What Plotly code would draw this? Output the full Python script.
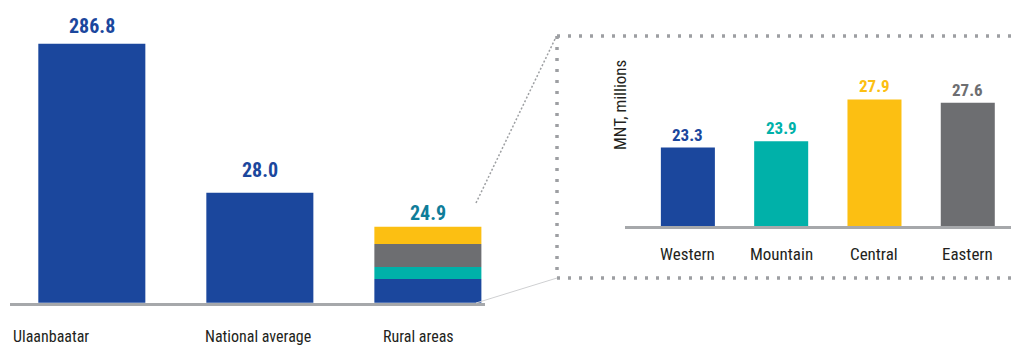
import plotly.graph_objects as go

# ---------------- data ----------------
main_categories = ["Ulaanbaatar", "National average", "Rural areas"]
main_values = [286.8, 28.0, 24.9]

# stacked bands drawn inside the "Rural areas" bar (bottom -> top), tops
rural_stack_regions = ["Western", "Mountain", "Eastern", "Central"]
rural_stack_tops = [20.13, 21.22, 23.32, 24.9]

region_categories = ["Western", "Mountain", "Central", "Eastern"]
region_values = [23.3, 23.9, 27.9, 27.6]

y_axis_title = "MNT, millions"

# ---------------- style ----------------
VIEW_W, VIEW_H = 1019, 347
BODY = 8  # default page margin around the plot div
W, H = VIEW_W - BODY, VIEW_H - BODY
BLUE = "#1b479d"
TEAL = "#00b1a9"
YELLOW = "#fcbf12"
GREY = "#6d6e71"
RURAL_LABEL = "#0f7d99"
AXIS = "#a6a8ab"
DOT = "#9d9fa2"
TEXT = "#231f20"
FONT = "Liberation Sans Narrow, Arial Narrow, Roboto Condensed, Roboto, sans-serif"
region_colors = {"Western": BLUE, "Mountain": TEAL, "Central": YELLOW, "Eastern": GREY}

LEFT_Y = [17.97, 41.58]
RIGHT_Y = [15.78, 33.6]


def px_x(x):
    """screen x (page pixels) -> paper fraction"""
    return (x - BODY) / W


def px_y(y):
    """screen y (page pixels) -> paper fraction"""
    return (VIEW_H - y) / H


fig = go.Figure()

# left panel: Ulaanbaatar & national average
fig.add_trace(go.Bar(
    x=main_categories[:2], y=main_values[:2], marker_color=BLUE, width=0.637,
    xaxis="x", yaxis="y", marker_line_width=0))

# left panel: rural areas as stacked coloured bands
base = 0
for region, top in zip(rural_stack_regions, rural_stack_tops):
    fig.add_trace(go.Bar(
        x=[main_categories[2]], y=[top - base], base=[base],
        marker_color=region_colors[region], width=0.637, name=region,
        xaxis="x", yaxis="y", marker_line_width=0))
    base = top

# right inset: regions
fig.add_trace(go.Bar(
    x=region_categories, y=region_values,
    marker_color=[region_colors[r] for r in region_categories], width=0.579,
    xaxis="x2", yaxis="y2", marker_line_width=0))

annotations = []

# value labels, left panel
main_label_colors = [BLUE, BLUE, RURAL_LABEL]
main_label_shift = [4, 9, 0]
for cat, v, col, sh in zip(main_categories, main_values, main_label_colors, main_label_shift):
    annotations.append(dict(
        x=cat, y=min(v, LEFT_Y[1]), xref="x", yref="y", text=f"{v:.1f}",
        showarrow=False, yanchor="bottom", yshift=sh,
        font=dict(family=FONT, size=20, color=col, weight="bold")))

# category labels, left panel
cat_xshift = [-81, -2, -9]
cat_anchor = ["left", "center", "center"]
for cat, xs, xa in zip(main_categories, cat_xshift, cat_anchor):
    annotations.append(dict(
        x=cat, y=px_y(336), xref="x", yref="paper", text=cat, showarrow=False,
        xanchor=xa, yanchor="middle", xshift=xs,
        font=dict(family=FONT, size=16, color=TEXT)))

# value labels, inset
for cat, v in zip(region_categories, region_values):
    annotations.append(dict(
        x=cat, y=v, xref="x2", yref="y2", text=f"{v:.1f}", showarrow=False,
        yanchor="bottom", yshift=1,
        font=dict(family=FONT, size=17, color=region_colors[cat], weight="bold")))

# category labels, inset
for cat in region_categories:
    annotations.append(dict(
        x=cat, y=px_y(254), xref="x2", yref="paper", text=cat, showarrow=False,
        yanchor="middle", font=dict(family=FONT, size=17, color=TEXT)))

# inset axis title
annotations.append(dict(
    x=px_x(620), y=px_y(105), xref="paper", yref="paper", text=y_axis_title,
    showarrow=False, textangle=-90, xanchor="center", yanchor="middle",
    font=dict(family=FONT, size=17, color=TEXT)))

shapes = [
    # connector lines from rural bar to the inset
    dict(type="line", xref="paper", yref="paper",
         x0=px_x(476), y0=px_y(203), x1=px_x(556), y1=px_y(37),
         line=dict(color=DOT, width=1.5, dash="2px,2px")),
    dict(type="line", xref="paper", yref="paper",
         x0=px_x(476), y0=px_y(303), x1=px_x(557), y1=px_y(278),
         line=dict(color="#cfd0d2", width=1)),
    # dotted inset frame
    dict(type="line", xref="paper", yref="paper",
         x0=px_x(557), y0=px_y(36), x1=px_x(1030), y1=px_y(36),
         line=dict(color=DOT, width=3.5, dash="3px,8px")),
    dict(type="path", xref="paper", yref="paper",
         path=f"M{px_x(557)},{px_y(36)} L{px_x(557)},{px_y(278)} L{px_x(1030)},{px_y(278)}",
         line=dict(color=DOT, width=3.5, dash="3px,8px")),
]

fig.update_layout(
    width=W, height=H,
    margin=dict(l=0, r=0, t=0, b=0, pad=0),
    paper_bgcolor="white", plot_bgcolor="white",
    showlegend=False, barmode="overlay",
    font=dict(family=FONT, color=TEXT),
    xaxis=dict(domain=[px_x(10), px_x(485)], range=[-0.487, 2.34], type="category",
               showline=True, linecolor=AXIS, linewidth=2.5, showticklabels=False,
               ticks="", showgrid=False, zeroline=False, anchor="y", fixedrange=True),
    yaxis=dict(domain=[px_y(302.7), px_y(43.7)], range=LEFT_Y, visible=False,
               anchor="x", fixedrange=True),
    xaxis2=dict(domain=[px_x(625), 1], range=[-0.674, 3.549], type="category",
                showline=True, linecolor=AXIS, linewidth=2.5, showticklabels=False,
                ticks="", showgrid=False, zeroline=False, anchor="y2", fixedrange=True),
    yaxis2=dict(domain=[px_y(226), px_y(40)], range=RIGHT_Y, visible=False,
                anchor="x2", fixedrange=True),
    annotations=annotations,
    shapes=shapes,
)

fig.write_html("out.html")
